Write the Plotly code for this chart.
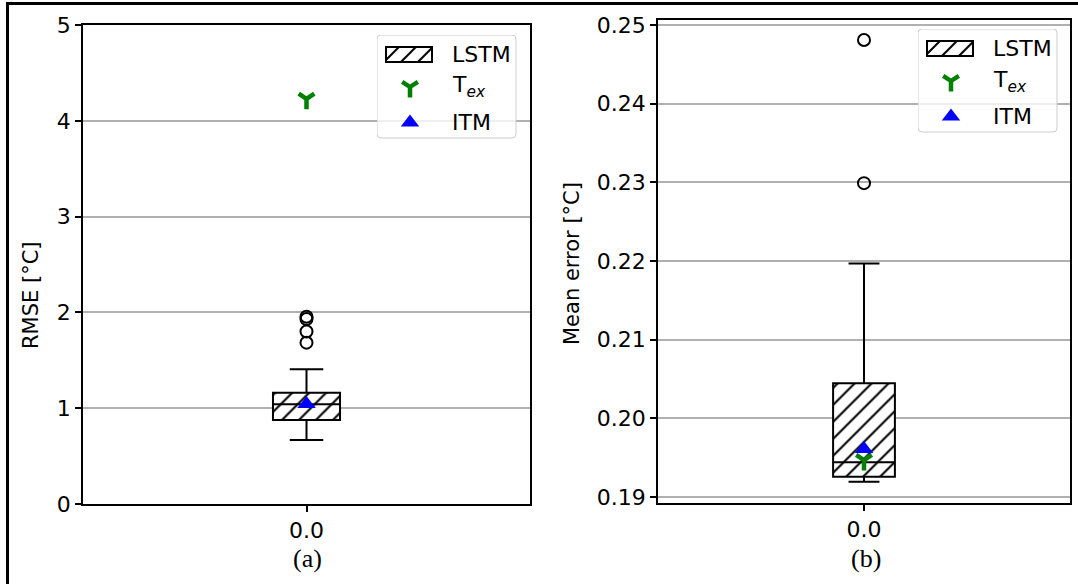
import plotly.graph_objects as go

# ---- data ----------------------------------------------------------------
categories = [0.0]
tick_text = ["0.0"]

# (a) RMSE [°C]
rmse_q1 = 0.877
rmse_median = 1.041
rmse_q3 = 1.162
rmse_lower = 0.668
rmse_upper = 1.406
rmse_outliers = [1.684, 1.80, 1.93, 1.955]
rmse_tex = 4.23
rmse_itm = 1.045

# (b) Mean error [°C]
me_q1 = 0.19258
me_median = 0.19441
me_q3 = 0.20445
me_lower = 0.19195
me_upper = 0.2197
me_outliers = [0.2299, 0.2481]
me_tex = 0.1947
me_itm = 0.1961

left_ticks = [0, 1, 2, 3, 4, 5]
right_ticks = [0.19, 0.20, 0.21, 0.22, 0.23, 0.24, 0.25]
right_tick_text = ["0.19", "0.20", "0.21", "0.22", "0.23", "0.24", "0.25"]

legend_labels = ["LSTM", "T<sub><i>ex</i></sub>", "ITM"]

# ---- style ---------------------------------------------------------------
BOX_W = 0.3
FONT = "DejaVu Sans"
GREEN = "#008000"
BLUE = "#0000ff"
W, H = 1078, 584
HATCH = dict(shape="/", fgcolor="black", bgcolor="white", fgopacity=1,
             size=12, solidity=0.17)
OUTLIER = dict(symbol="circle-open", size=12, color="black",
               line=dict(width=2, color="black"))
TEX_MARK = dict(symbol="y-down", size=13, color=GREEN,
                line=dict(width=4.5, color=GREEN))
ITM_MARK = dict(symbol="triangle-up", size=16, color=BLUE)

# legend box geometry (pixels inside the legend box, measured from its top-left)
LEG_W, LEG_H, LEG_R = 140, 104, 4
LEG_KEY_X = 32
LEG_PATCH_W, LEG_PATCH_TOP, LEG_PATCH_H = 46, 12, 15
LEG_ROW_Y = [19.5, 52, 87.5]
LEG_TEXT_X = 73


def px_x(p):
    return p / W


def px_y(p):
    return 1 - p / H


fig = go.Figure()


def add_panel(xa, ya, q1, med, q3, lo, hi, outl, tex, itm):
    # hatched body of the box
    fig.add_trace(go.Bar(
        x=categories, y=[q3 - q1], base=[q1], width=BOX_W,
        marker=dict(color="white", line=dict(width=0), pattern=HATCH),
        showlegend=False, xaxis=xa, yaxis=ya, hoverinfo="skip"))
    # outline, median and whiskers
    fig.add_trace(go.Box(
        x=categories, q1=[q1], median=[med], q3=[q3],
        lowerfence=[lo], upperfence=[hi], width=BOX_W, whiskerwidth=0.5,
        line=dict(color="black", width=2), fillcolor="rgba(0,0,0,0)",
        boxpoints=False, showlegend=False, xaxis=xa, yaxis=ya))
    # outliers
    fig.add_trace(go.Scatter(
        x=categories * len(outl), y=outl, mode="markers", marker=OUTLIER,
        showlegend=False, xaxis=xa, yaxis=ya))
    fig.add_trace(go.Scatter(
        x=categories, y=[tex], mode="markers", marker=TEX_MARK,
        showlegend=False, xaxis=xa, yaxis=ya))
    fig.add_trace(go.Scatter(
        x=categories, y=[itm], mode="markers", marker=ITM_MARK,
        showlegend=False, xaxis=xa, yaxis=ya))


def rounded_rect(w, h, r):
    return (f"M {r},0 L {w - r},0 Q {w},0 {w},{r} L {w},{h - r} "
            f"Q {w},{h} {w - r},{h} L {r},{h} Q 0,{h} 0,{h - r} "
            f"L 0,{r} Q 0,0 {r},0 Z")


def add_legend(xa, ya):
    xr, yr = xa.replace("axis", ""), ya.replace("axis", "")
    fig.add_shape(type="path", xref=xr, yref=yr,
                  path=rounded_rect(LEG_W - 1, LEG_H - 1, LEG_R),
                  layer="below", line=dict(color="#cccccc", width=1),
                  fillcolor="rgba(255,255,255,0.8)")
    fig.add_trace(go.Bar(
        x=[LEG_KEY_X], y=[LEG_PATCH_H], base=[LEG_PATCH_TOP], width=LEG_PATCH_W,
        marker=dict(color="white", line=dict(color="black", width=2),
                    pattern=HATCH),
        showlegend=False, xaxis=xr, yaxis=yr, hoverinfo="skip"))
    fig.add_trace(go.Scatter(x=[LEG_KEY_X + 1], y=[LEG_ROW_Y[1]], mode="markers",
                             marker=TEX_MARK, showlegend=False,
                             xaxis=xr, yaxis=yr))
    fig.add_trace(go.Scatter(x=[LEG_KEY_X + 1], y=[LEG_ROW_Y[2]], mode="markers",
                             marker=ITM_MARK, showlegend=False,
                             xaxis=xr, yaxis=yr))
    for label, yy in zip(legend_labels, LEG_ROW_Y):
        fig.add_annotation(text=label, xref=xr, yref=yr, x=LEG_TEXT_X, y=yy,
                           xanchor="left", yanchor="middle", showarrow=False,
                           font=dict(family=FONT, size=22, color="black"))


add_panel("x", "y", rmse_q1, rmse_median, rmse_q3, rmse_lower, rmse_upper,
          rmse_outliers, rmse_tex, rmse_itm)
add_panel("x2", "y2", me_q1, me_median, me_q3, me_lower, me_upper,
          me_outliers, me_tex, me_itm)
add_legend("xaxis3", "yaxis3")
add_legend("xaxis4", "yaxis4")

axis_common = dict(showline=True, linecolor="black", linewidth=1.5,
                   mirror=True, ticks="outside", ticklen=6, tickwidth=1.5,
                   tickcolor="black", zeroline=False, automargin=False,
                   tickfont=dict(family=FONT, size=22, color="black"))
legend_axis = dict(visible=False, showgrid=False, zeroline=False,
                   automargin=False, fixedrange=True)

fig.update_layout(
    width=W, height=H,
    margin=dict(l=0, r=0, t=0, b=0, autoexpand=False),
    paper_bgcolor="white", plot_bgcolor="rgba(0,0,0,0)",
    barmode="overlay", boxmode="overlay", showlegend=False,
    xaxis=dict(domain=[px_x(83), px_x(530)], range=[-1, 1],
               tickvals=categories, ticktext=tick_text, showgrid=False,
               anchor="y", **axis_common),
    yaxis=dict(domain=[px_y(504), px_y(25)], range=[0, 5],
               tickvals=left_ticks, showgrid=True, gridcolor="#b0b0b0",
               gridwidth=1.5, anchor="x", **axis_common),
    xaxis2=dict(domain=[px_x(658), px_x(1070)], range=[-1, 1],
                tickvals=categories, ticktext=tick_text, showgrid=False,
                anchor="y2", **axis_common),
    yaxis2=dict(domain=[px_y(503), px_y(20)], range=[0.18924, 0.25064],
                tickvals=right_ticks, ticktext=right_tick_text,
                showgrid=True, gridcolor="#b0b0b0", gridwidth=1.5,
                anchor="x2", **axis_common),
    xaxis3=dict(domain=[px_x(377), px_x(377 + LEG_W)], range=[0, LEG_W],
                anchor="y3", **legend_axis),
    yaxis3=dict(domain=[px_y(35 + LEG_H), px_y(35)], range=[LEG_H, 0],
                anchor="x3", **legend_axis),
    xaxis4=dict(domain=[px_x(918), px_x(918 + LEG_W)], range=[0, LEG_W],
                anchor="y4", **legend_axis),
    yaxis4=dict(domain=[px_y(29 + LEG_H), px_y(29)], range=[LEG_H, 0],
                anchor="x4", **legend_axis),
)

# axis titles and panel captions
fig.add_annotation(text="RMSE [°C]", textangle=-90, xref="paper", yref="paper",
                   x=px_x(31), y=px_y(295), xanchor="center", yanchor="middle",
                   showarrow=False, font=dict(family=FONT, size=21, color="black"))
fig.add_annotation(text="Mean error [°C]", textangle=-90, xref="paper",
                   yref="paper", x=px_x(572), y=px_y(264), xanchor="center",
                   yanchor="middle", showarrow=False,
                   font=dict(family=FONT, size=21, color="black"))
fig.add_annotation(text="(a)", xref="paper", yref="paper", x=px_x(307),
                   y=px_y(558), xanchor="center", yanchor="middle",
                   showarrow=False,
                   font=dict(family="Liberation Serif", size=26, color="black"))
fig.add_annotation(text="(b)", xref="paper", yref="paper", x=px_x(866),
                   y=px_y(558), xanchor="center", yanchor="middle",
                   showarrow=False,
                   font=dict(family="Liberation Serif", size=26, color="black"))

# outer frame
fig.add_shape(type="rect", xref="paper", yref="paper",
              x0=px_x(7.5), x1=px_x(1085), y0=px_y(590), y1=px_y(3.5),
              line=dict(color="black", width=3), fillcolor="rgba(0,0,0,0)")

fig.write_html("out.html")
